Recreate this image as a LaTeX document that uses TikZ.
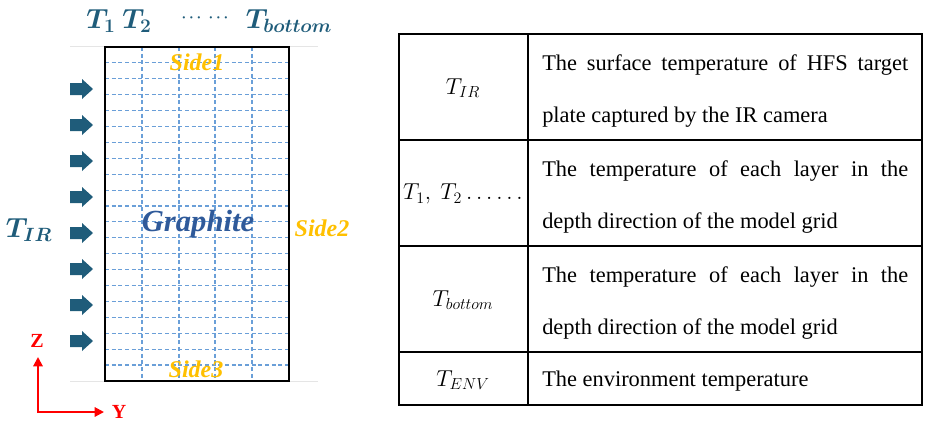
\documentclass[tikz,border=0pt]{standalone}
\usepackage{fontspec}
\setmainfont{Liberation Serif}
\usetikzlibrary{arrows.meta}

\definecolor{tealdark}{HTML}{1F5C7A}
\definecolor{graphblue}{HTML}{2F5A9A}
\definecolor{sidegold}{HTML}{FFC000}
\definecolor{gridblue}{HTML}{6A9FD8}

\newcommand{\fullline}[1]{\makebox[274.5pt][s]{#1}}

\begin{document}
\begin{tikzpicture}[x=0.75pt, y=-0.75pt,
  tlabel/.style={text=tealdark, font=\fontsize{20}{24}\selectfont\boldmath, inner sep=0pt},
  sidelabel/.style={text=sidegold, font=\fontsize{18}{22}\selectfont\bfseries\itshape, inner sep=0pt},
  axislabel/.style={text=red, font=\fontsize{15}{18}\selectfont\bfseries, inner sep=0pt},
  gridline/.style={gridblue, line width=0.8pt, dash pattern=on 3pt off 2pt},
  symcell/.style={font=\fontsize{18}{22}\selectfont, inner sep=0pt},
  desccell/.style={font=\fontsize{16.8}{39}\selectfont, text width=274.5pt, align=justify, inner sep=0pt, anchor=west}]

  \useasboundingbox (0,0) rectangle (925,430);

  % --- Guide lines ---
  \draw[gray!20, line width=0.75pt] (70,46) -- (318,46);
  \draw[gray!20, line width=0.75pt] (70,381) -- (318,381);

  % --- Grid ---
  \foreach \x in {142,179,215,252} \draw[gridline] (\x,47) -- (\x,381);
  \foreach \k in {1,...,20} \draw[gridline] (105,{47+15.9*\k}) -- (289,{47+15.9*\k});

  % --- Graphite block ---
  \draw[line width=1.5pt] (105,47) rectangle (289,381);
  \node[text=graphblue, font=\fontsize{23}{26}\selectfont\bfseries\itshape, inner sep=0pt] (graphite) at (198,224) {Graphite};
  \node[sidelabel] (sideone) at (197,62) {Side1};
  \node[sidelabel] (sidetwo) at (322,228) {Side2};
  \node[sidelabel] (sidethree) at (196,369) {Side3};

  % --- Layer labels ---
  \node[tlabel] (tone) at (101,21) {$T_1$};
  \node[tlabel] (ttwo) at (137,21) {$T_2$};
  \node[tlabel, font=\fontsize{11}{13}\selectfont\boldmath] (tdots) at (205,18) {$\cdots\;\cdots$};
  \node[tlabel] (tbottom) at (289,21) {$T_{bottom}$};
  \node[tlabel] (tir) at (29,230) {$T_{IR}$};

  % --- Heat flux arrows ---
  \foreach \y in {89,125,...,341}
    \fill[tealdark] (70,\y) ++(0,-6) -- ++(12,0) -- ++(0,-4) -- ++(11,10)
      -- ++(-11,10) -- ++(0,-4) -- ++(-12,0) -- cycle;

  % --- Axes ---
  \coordinate (orig) at (38,412);
  \coordinate (zend) at (38,357);
  \coordinate (yend) at (104,412);
  \draw[red, line width=1.5pt, {Triangle[length=7pt,width=7pt]}-{Triangle[length=7pt,width=7pt]}]
    (zend) -- (orig) -- (yend);
  \node[axislabel] (zlab) at (37,341) {Z};
  \node[axislabel] (ylab) at (119,412) {Y};

  % --- Table ---
  \draw[line width=1pt] (399,34) rectangle (922,405);
  \draw[line width=1pt] (528,34) -- (528,405);
  \foreach \y in {140,246,352} \draw[line width=1pt] (399,\y) -- (922,\y);

  \node[symcell] (symir) at (463,88) {$T_{IR}$};
  \node[desccell] (descir) at (542,91)
    {\fullline{The surface temperature of HFS target}\newline plate captured by the IR camera};
  \node[symcell, font=\fontsize{16.5}{20}\selectfont] (symlayer) at (463,194) {$T_1,\ T_2\ldots\ldots$};
  \node[desccell] (desclayer) at (542,197)
    {\fullline{The temperature of each layer in the}\newline depth direction of the model grid};
  \node[symcell] (symbottom) at (463,300) {$T_{bottom}$};
  \node[desccell] (descbottom) at (542,303)
    {\fullline{The temperature of each layer in the}\newline depth direction of the model grid};
  \node[symcell] (symenv) at (463,380) {$T_{ENV}$};
  \node[desccell] (descenv) at (542,381) {The environment temperature};

\end{tikzpicture}
\end{document}
